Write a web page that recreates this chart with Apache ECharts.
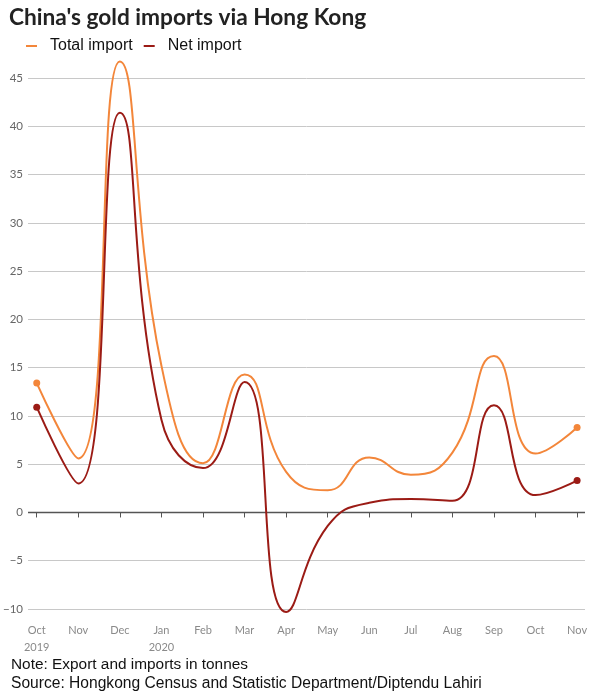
<!DOCTYPE html>
<html>
<head>
<meta charset="utf-8">
<script src="https://cdn.jsdelivr.net/npm/echarts@6/dist/echarts.min.js"></script>
<style>
html,body{margin:0;padding:0;background:#fff;}
#chart{width:616px;height:699px;}
</style>
</head>
<body>
<div id="chart"></div>
<script>
var categories = ['Oct\n2019','Nov','Dec','Jan\n2020','Feb','Mar','Apr','May','Jun','Jul','Aug','Sep','Oct','Nov'];
var totalImport = [13.4, 5.6, 46.7, 15.2, 5.1, 14.3, 4.2, 2.3, 5.7, 3.9, 6.2, 16.2, 6.1, 8.8];
var netImport = [10.9, 3.0, 41.4, 9.6, 4.6, 13.5, -10.3, -1.4, 1.0, 1.4, 1.2, 11.1, 1.8, 3.3];
var yTicks = [-10, -5, 0, 5, 10, 15, 20, 25, 30, 35, 40, 45];

var ORANGE = '#F3863A';
var RED = '#9B1B15';

function toData(arr, color) {
  return arr.map(function (v, i) {
    var d = { value: [i, v] };
    if (i === 0 || i === arr.length - 1) {
      d.symbol = 'circle';
      d.symbolSize = 7;
      d.itemStyle = { color: color };
    }
    return d;
  });
}

var idx = categories.map(function (c, i) { return i; });

var chart = echarts.init(document.getElementById('chart'), null, { renderer: 'canvas' });
chart.setOption({
  animation: false,
  backgroundColor: '#fff',
  title: {
    text: "China's gold imports via Hong Kong",
    left: 4, top: 1,
    textStyle: { fontFamily: 'Lato', fontWeight: 'bold', fontSize: 22.7, color: '#222' }
  },
  legend: {
    left: 21, top: 33,
    icon: 'rect', itemWidth: 11, itemHeight: 2, itemGap: 11,
    textStyle: { fontFamily: 'Liberation Sans', fontSize: 16, color: '#111', padding: [0, 0, 0, 8] },
    data: ['Total import', 'Net import']
  },
  grid: { left: 27, right: 31, top: 78, bottom: 90 },
  xAxis: {
    type: 'value', min: -0.21, max: 13.19,
    splitLine: { show: false },
    axisLine: { show: false },
    axisTick: { show: true, customValues: idx, length: 5, lineStyle: { color: '#555' } },
    axisLabel: {
      customValues: idx,
      formatter: function (v) { return categories[Math.round(v)]; },
      color: '#8a8a8a', fontFamily: 'Lato', fontSize: 11, lineHeight: 17, margin: 13
    }
  },
  yAxis: {
    type: 'value', min: -10, max: 45, interval: 5,
    axisLine: { show: false }, axisTick: { show: false },
    splitLine: { lineStyle: { color: '#c8c8c8', width: 1 } },
    axisLabel: {
      color: '#666', fontFamily: 'Lato', fontSize: 11.5, margin: 5,
      formatter: function (v) { return String(v).replace('-', '\u2212'); }
    }
  },
  series: [
    {
      name: 'Total import', type: 'line', smooth: 0.5, clip: false,
      symbol: 'none', showSymbol: true,
      color: ORANGE,
      lineStyle: { color: ORANGE, width: 2 },
      data: toData(totalImport, ORANGE),
      z: 3
    },
    {
      name: 'Net import', type: 'line', smooth: 0.5, clip: false,
      symbol: 'none', showSymbol: true,
      color: RED,
      lineStyle: { color: RED, width: 2 },
      data: toData(netImport, RED),
      z: 4,
      markLine: {
        silent: true, symbol: 'none', label: { show: false },
        lineStyle: { color: '#555', width: 1.3, type: 'solid' },
        data: [{ yAxis: 0 }],
        z: 2
      }
    }
  ],
  graphic: [
    { type: 'text', left: 11, top: 657, style: { text: 'Note: Export and imports in tonnes', fontFamily: 'Liberation Sans', fontSize: 15.4, fill: '#111' } },
    { type: 'text', left: 11, top: 676, style: { text: 'Source: Hongkong Census and Statistic Department/Diptendu Lahiri', fontFamily: 'Liberation Sans', fontSize: 15.6, fill: '#111' } }
  ]
});
</script>
</body>
</html>
